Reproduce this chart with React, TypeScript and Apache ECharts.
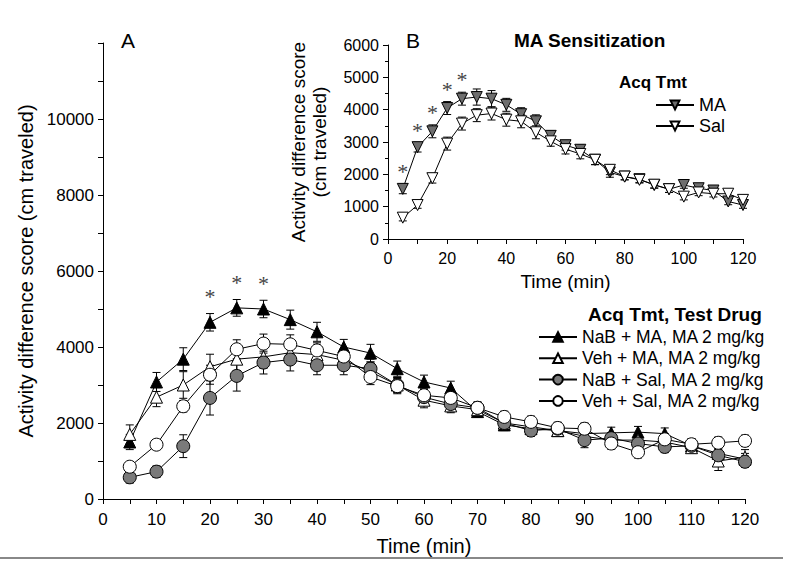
import React, { useEffect, useRef } from 'react';
import * as echarts from 'echarts';

const times = [5, 10, 15, 20, 25, 30, 35, 40, 45, 50, 55, 60, 65, 70, 75, 80, 85, 90, 95, 100, 105, 110, 115, 120];

// Panel A
const nabMA = [1500, 3080, 3680, 4650, 5030, 5000, 4720, 4400, 4000, 3840, 3430, 3080, 2920, 2300, 1950, 1850, 1800, 1720, 1740, 1760, 1720, 1400, 1200, 1050];
const nabMAErr = [200, 250, 300, 230, 220, 230, 250, 250, 200, 230, 200, 180, 180, 150, 150, 150, 150, 150, 150, 150, 150, 150, 150, 150];
const vehMA = [1700, 2680, 3000, 3480, 3680, 3740, 3850, 3800, 3650, 3350, 3000, 2600, 2450, 2350, 2000, 1900, 1800, 1650, 1550, 1550, 1500, 1350, 1000, 1100];
const vehMAErr = [250, 250, 350, 330, 300, 300, 300, 250, 250, 250, 200, 200, 180, 150, 150, 150, 150, 150, 150, 150, 150, 150, 250, 200];
const nabSal = [570, 720, 1390, 2660, 3240, 3590, 3670, 3520, 3520, 3430, 3000, 2680, 2500, 2400, 2000, 1800, 1850, 1550, 1600, 1460, 1370, 1400, 1150, 980];
const nabSalErr = [150, 150, 300, 450, 400, 300, 300, 250, 250, 250, 200, 200, 200, 150, 150, 150, 150, 200, 150, 150, 150, 150, 150, 150];
const vehSal = [850, 1430, 2440, 3270, 3940, 4090, 4070, 3910, 3750, 3210, 2970, 2730, 2660, 2400, 2160, 2030, 1870, 1850, 1460, 1230, 1570, 1440, 1480, 1530];
const vehSalErr = [100, 100, 150, 250, 250, 250, 250, 200, 200, 200, 200, 150, 150, 150, 150, 150, 150, 150, 150, 150, 150, 150, 150, 150];
const starTimesA = [20, 25, 30];

// Panel B
const sensMA = [1550, 2840, 3330, 4050, 4340, 4390, 4340, 4150, 3860, 3640, 3190, 2900, 2760, 2450, 2060, 1930, 1850, 1670, 1540, 1670, 1570, 1500, 1160, 1050];
const sensMAErr = [150, 150, 200, 200, 200, 250, 250, 200, 200, 200, 150, 150, 150, 150, 150, 100, 100, 100, 100, 100, 100, 100, 100, 100];
const sensSal = [660, 1050, 1880, 2950, 3570, 3830, 3880, 3690, 3640, 3300, 3020, 2780, 2630, 2450, 2140, 1930, 1830, 1680, 1540, 1310, 1440, 1400, 1400, 1210];
const sensSalErr = [100, 100, 150, 200, 200, 200, 200, 200, 200, 200, 150, 150, 150, 150, 150, 100, 100, 100, 100, 100, 100, 100, 100, 100];
const starTimesB = [5, 10, 15, 20, 25];

const yTicksA = [0, 2000, 4000, 6000, 8000, 10000];

const FONT = 'Liberation Sans, Arial, sans-serif';

function errSeries(vals: number[], errs: number[], axis: number) {
  return {
    type: 'custom',
    xAxisIndex: axis,
    yAxisIndex: axis,
    z: 1,
    silent: true,
    itemStyle: { color: '#000' },
    data: times.map((t, i) => [t, vals[i] - errs[i], vals[i] + errs[i]]),
    encode: { x: 0, y: [1, 2] },
    renderItem: (params: any, api: any) => {
      const x = api.value(0);
      const lo = api.coord([x, api.value(1)]);
      const hi = api.coord([x, api.value(2)]);
      const w = 4;
      const style = { stroke: '#000', lineWidth: 1 };
      return {
        type: 'group',
        children: [
          { type: 'line', shape: { x1: lo[0], y1: lo[1], x2: hi[0], y2: hi[1] }, style },
          { type: 'line', shape: { x1: lo[0] - w, y1: lo[1], x2: lo[0] + w, y2: lo[1] }, style },
          { type: 'line', shape: { x1: hi[0] - w, y1: hi[1], x2: hi[0] + w, y2: hi[1] }, style },
        ],
      };
    },
  };
}

function lineSeries(name: string, vals: number[], axis: number, symbol: string, size: number, fill: string, rotate = 0) {
  return {
    name,
    type: 'line',
    xAxisIndex: axis,
    yAxisIndex: axis,
    z: 3,
    data: times.map((t, i) => [t, vals[i]]),
    symbol,
    symbolSize: size,
    symbolRotate: rotate,
    showAllSymbol: true,
    lineStyle: { color: '#000', width: 1 },
    itemStyle: { color: fill, borderColor: '#000', borderWidth: 1 },
  };
}

function starSeries(tlist: number[], vals: number[], errs: number[], axis: number, offset: number) {
  return {
    type: 'custom',
    xAxisIndex: axis,
    yAxisIndex: axis,
    z: 4,
    silent: true,
    itemStyle: { color: '#444' },
    data: tlist.map((t) => {
      const i = times.indexOf(t);
      return [t, vals[i] + errs[i] + offset];
    }),
    encode: { x: 0, y: 1 },
    renderItem: (params: any, api: any) => {
      const p = api.coord([api.value(0), api.value(1)]);
      return {
        type: 'text',
        x: p[0],
        y: p[1],
        style: {
          text: '*',
          fill: '#444',
          font: '22px "Liberation Serif", serif',
          align: 'center',
          verticalAlign: 'middle',
        },
      };
    },
  };
}

const axisCommon = {
  axisLine: { show: true, lineStyle: { color: '#000', width: 1 } },
  axisTick: { show: true, inside: false, length: 5, lineStyle: { color: '#000' } },
  splitLine: { show: false },
};

export default function App() {
  const ref = useRef<HTMLDivElement>(null);
  useEffect(() => {
    document.body.style.margin = '0';
    const chart = echarts.init(ref.current!, null, { renderer: 'svg' });
    const option: any = {
      animation: false,
      backgroundColor: '#fff',
      textStyle: { fontFamily: FONT, color: '#000' },
      title: [
        { text: 'A', left: 116, top: 25, textStyle: { fontSize: 21, fontWeight: 'normal', fontFamily: FONT, color: '#000' } },
        { text: 'B', left: 401, top: 25, textStyle: { fontSize: 21, fontWeight: 'normal', fontFamily: FONT, color: '#000' } },
        { text: 'MA Sensitization', left: 509, top: 26, textStyle: { fontSize: 19, fontWeight: 'bold', fontFamily: FONT, color: '#000' } },
        { text: 'Acq Tmt, Test Drug', left: 583, top: 300, textStyle: { fontSize: 19, fontWeight: 'bold', fontFamily: FONT, color: '#000' } },
        { text: 'Acq Tmt', left: 614, top: 69, textStyle: { fontSize: 17, fontWeight: 'bold', fontFamily: FONT, color: '#000' } },
      ],
      legend: [
        {
          orient: 'vertical',
          left: 533,
          top: 323,
          itemWidth: 38,
          itemHeight: 12,
          itemGap: 3.3,
          textStyle: { fontSize: 17.5, lineHeight: 18, fontFamily: FONT, color: '#000' },
          data: ['NaB + MA, MA 2 mg/kg', 'Veh + MA, MA 2 mg/kg', 'NaB + Sal, MA 2 mg/kg', 'Veh + Sal, MA 2 mg/kg'],
        },
        {
          orient: 'vertical',
          left: 650,
          top: 91,
          itemWidth: 38,
          itemHeight: 11,
          itemGap: 3,
          textStyle: { fontSize: 18, lineHeight: 18, fontFamily: FONT, color: '#000' },
          data: ['MA', 'Sal'],
        },
      ],
      grid: [
        { left: 103, top: 43, width: 642, height: 456 },
        { left: 388, top: 45, width: 355, height: 194 },
      ],
      xAxis: [
        {
          ...axisCommon,
          type: 'value',
          gridIndex: 0,
          min: 0,
          max: 120,
          interval: 10,
          minorTick: { show: true, splitNumber: 2, length: 5, lineStyle: { color: '#000' } },
          axisLabel: { fontSize: 17, margin: 12, color: '#000', fontFamily: FONT },
          name: 'Time (min)',
          nameLocation: 'middle',
          nameGap: 37,
          nameTextStyle: { fontSize: 20, color: '#000', fontFamily: FONT },
        },
        {
          ...axisCommon,
          type: 'value',
          gridIndex: 1,
          min: 0,
          max: 120,
          interval: 10,
          axisLabel: { fontSize: 16, margin: 11, color: '#000', fontFamily: FONT, formatter: (v: number) => (v % 20 === 0 ? String(v) : '') },
          name: 'Time (min)',
          nameLocation: 'middle',
          nameGap: 33,
          nameTextStyle: { fontSize: 19, color: '#000', fontFamily: FONT },
        },
      ],
      yAxis: [
        {
          ...axisCommon,
          type: 'value',
          gridIndex: 0,
          min: 0,
          max: 12000,
          interval: 2000,
          minorTick: { show: true, splitNumber: 2, length: 5, lineStyle: { color: '#000' } },
          axisLabel: { fontSize: 17, margin: 9, color: '#000', fontFamily: FONT, formatter: (v: number) => (yTicksA.indexOf(v) >= 0 ? String(v) : '') },
          name: 'Activity difference score (cm traveled)',
          nameLocation: 'middle',
          nameGap: 62,
          nameTextStyle: { fontSize: 20, color: '#000', fontFamily: FONT },
        },
        {
          ...axisCommon,
          type: 'value',
          gridIndex: 1,
          min: 0,
          max: 6000,
          interval: 1000,
          minorTick: { show: true, splitNumber: 2, length: 3, lineStyle: { color: '#000' } },
          axisLabel: { fontSize: 16, margin: 9, color: '#000', fontFamily: FONT, formatter: (v: number) => String(v) },
          name: 'Activity difference score\n(cm traveled)',
          nameLocation: 'middle',
          nameGap: 58,
          nameTextStyle: { fontSize: 19, lineHeight: 21, color: '#000', fontFamily: FONT },
        },
      ],
      graphic: [
        { type: 'line', shape: { x1: 0, y1: 558, x2: 783, y2: 558 }, style: { stroke: '#888', lineWidth: 2 } },
      ],
      series: [
        errSeries(nabMA, nabMAErr, 0),
        errSeries(vehMA, vehMAErr, 0),
        errSeries(nabSal, nabSalErr, 0),
        errSeries(vehSal, vehSalErr, 0),
        errSeries(sensMA, sensMAErr, 1),
        errSeries(sensSal, sensSalErr, 1),
        lineSeries('NaB + MA, MA 2 mg/kg', nabMA, 0, 'triangle', 12, '#000'),
        lineSeries('Veh + MA, MA 2 mg/kg', vehMA, 0, 'triangle', 12, '#fff'),
        lineSeries('NaB + Sal, MA 2 mg/kg', nabSal, 0, 'circle', 13, '#7a7a7a'),
        lineSeries('Veh + Sal, MA 2 mg/kg', vehSal, 0, 'circle', 13, '#fff'),
        lineSeries('MA', sensMA, 1, 'triangle', 11, '#6e6e6e', 180),
        lineSeries('Sal', sensSal, 1, 'triangle', 11, '#fff', 180),
        starSeries(starTimesA, nabMA, nabMAErr, 0, 450),
        starSeries(starTimesB, sensMA, sensMAErr, 1, 380),
      ],
    };
    chart.setOption(option);
    return () => chart.dispose();
  }, []);
  return <div ref={ref} style={{ width: 800, height: 570 }} />;
}
